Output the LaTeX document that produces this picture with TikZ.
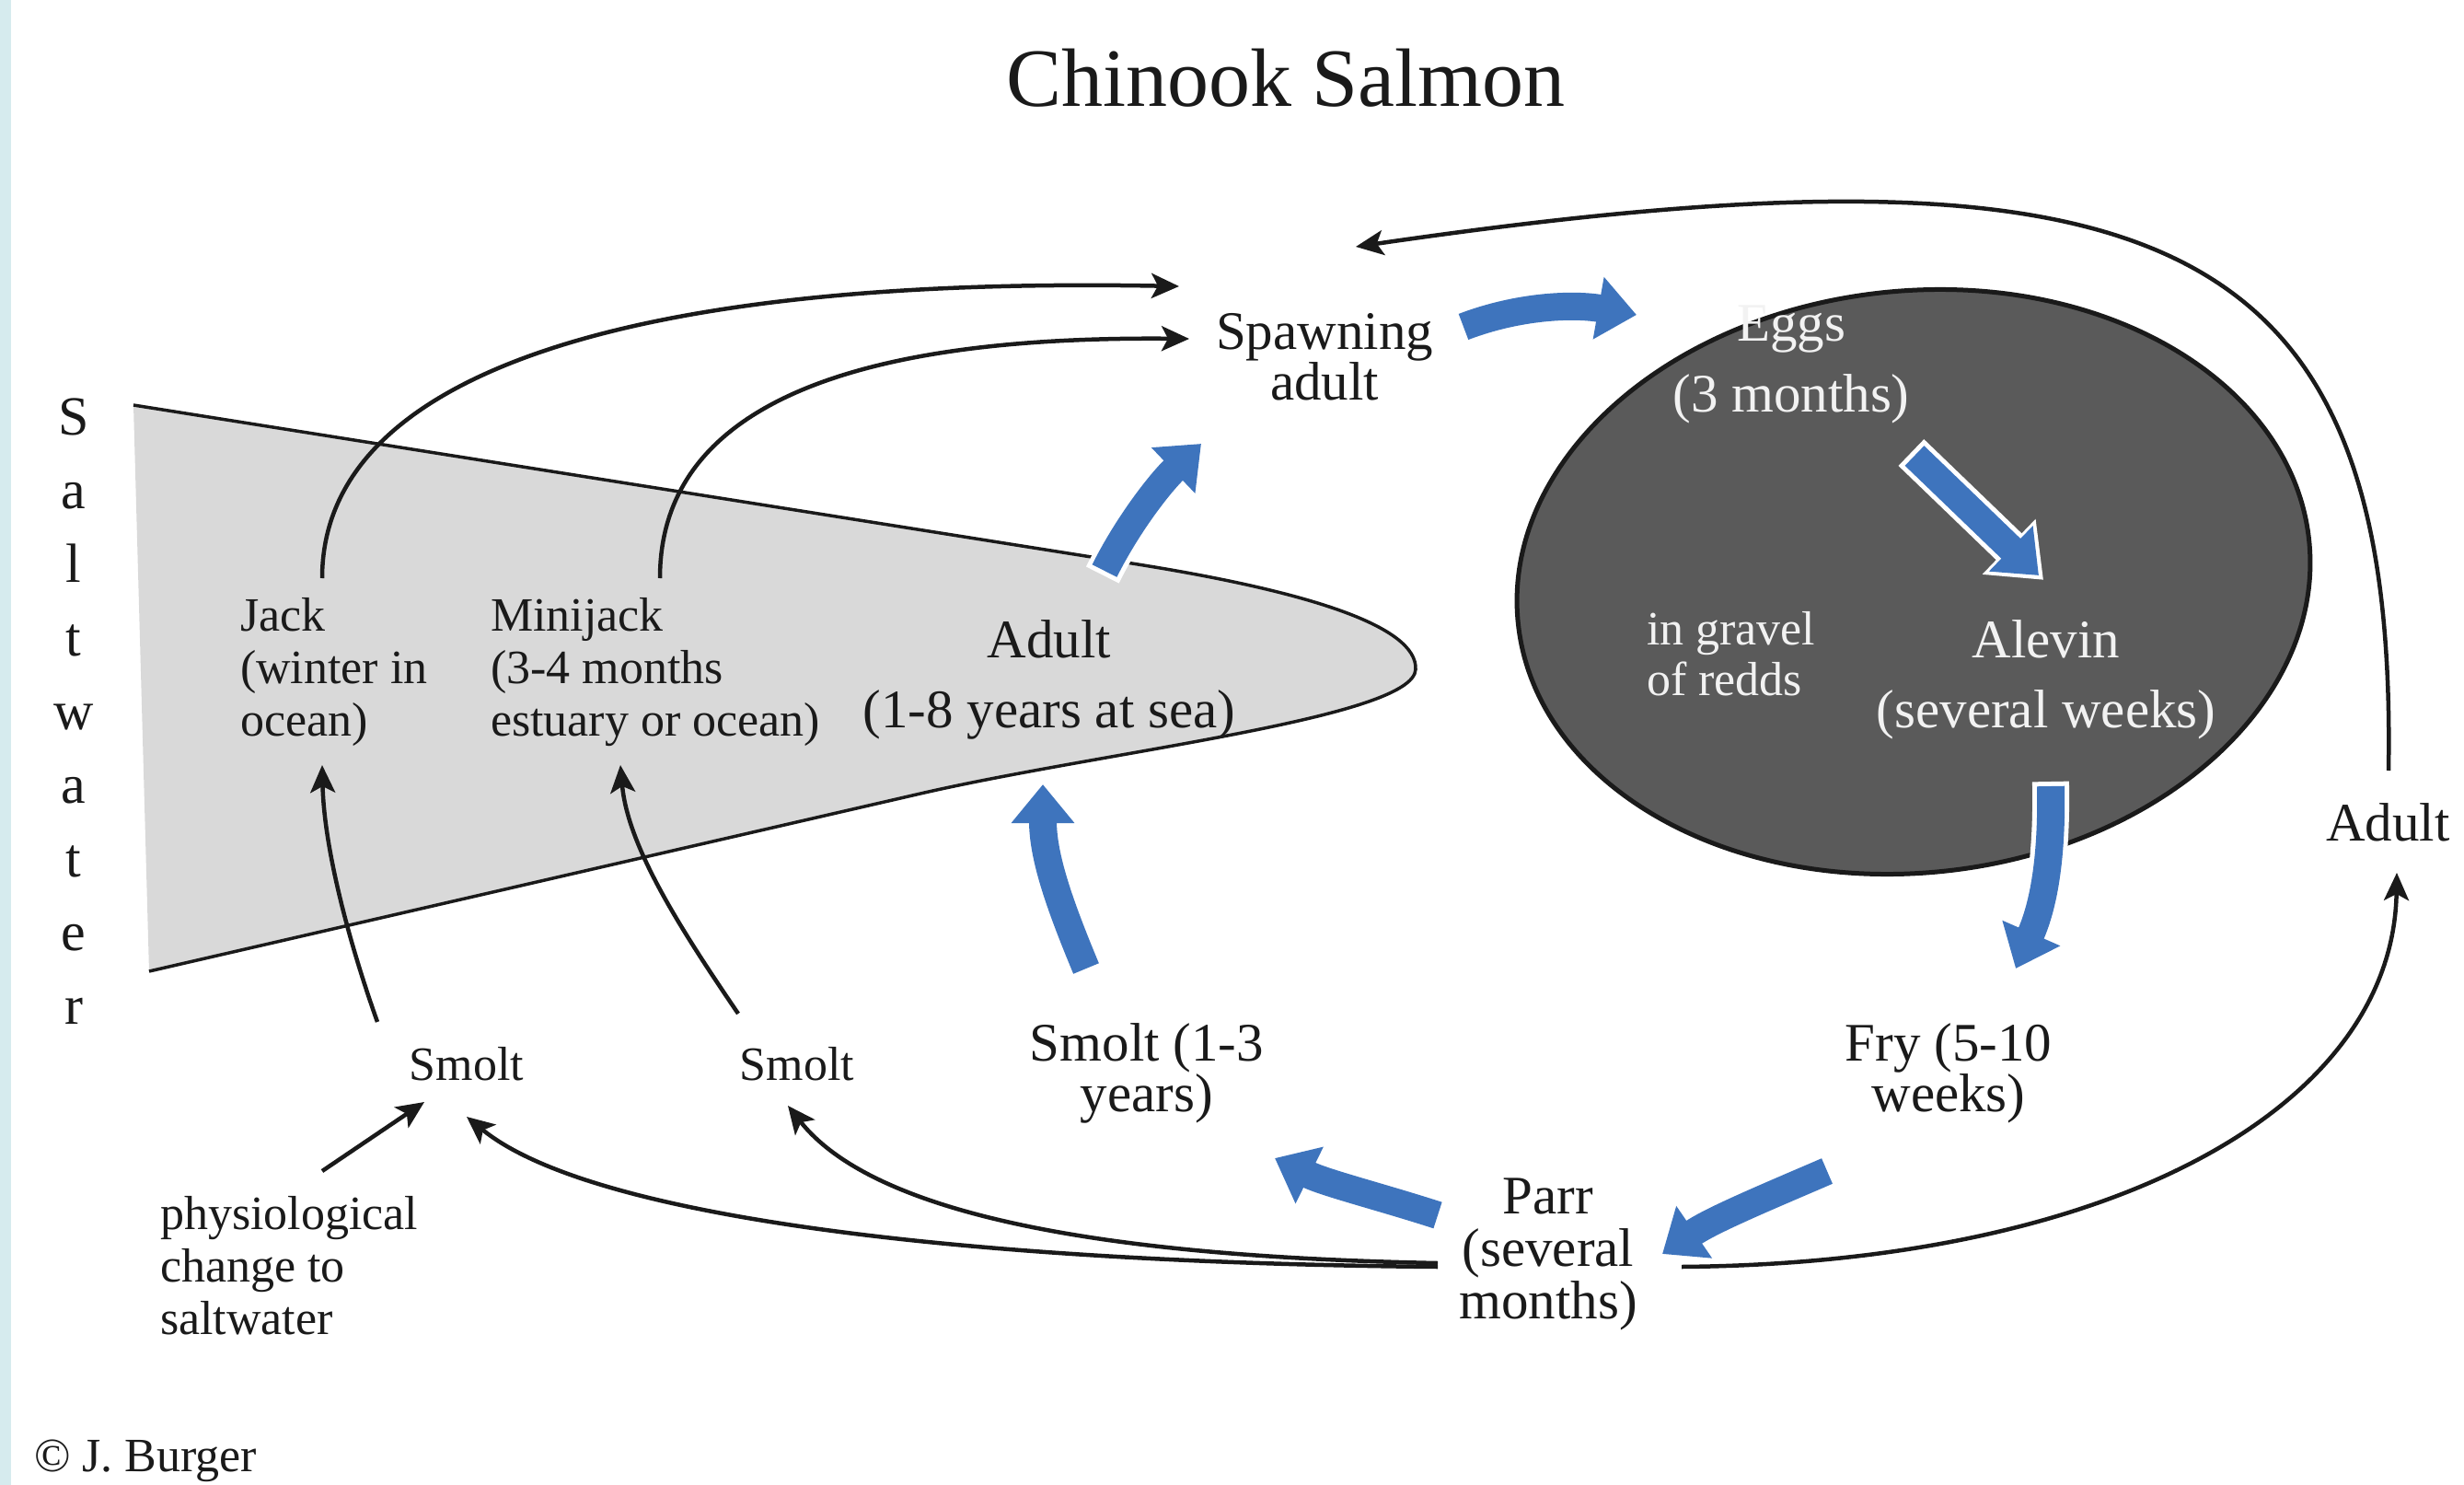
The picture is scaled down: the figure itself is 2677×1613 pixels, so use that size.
\documentclass[tikz,border=0pt]{standalone}
\usepackage{fontspec}
\setmainfont{Liberation Serif}
\usetikzlibrary{arrows.meta,calc}
\definecolor{stripblue}{HTML}{D6EBEE}
\definecolor{seagray}{HTML}{D9D9D9}
\definecolor{reddgray}{HTML}{5A5A5A}
\definecolor{stageblue}{HTML}{3E74BD}
\definecolor{ink}{HTML}{1A1A1A}
\definecolor{paleink}{HTML}{F2F2F2}
\begin{document}
\begin{tikzpicture}[x=1pt,y=-1pt,
  every node/.style={inner sep=0pt, outer sep=0pt, text=ink},
  stage/.style={font=\fontsize{59}{56}\selectfont, align=center, anchor=base},
  note/.style={font=\fontsize{52}{57}\selectfont, align=left, anchor=base west},
  redd/.style={text=paleink},
  conn/.style={draw=ink, line width=4.5pt, -{Stealth[length=30pt,width=27pt,inset=7pt]}},
  flow/.style={draw=stageblue, line width=30pt, -{Triangle[width=66pt,length=42pt]}},
  flowrim/.style={draw=white, line width=40pt, shorten >=-7pt, shorten <=-5pt, -{Triangle[width=80pt,length=52pt]}},
]
\useasboundingbox (0,0) rectangle (2677,1613);
\fill[white] (0,0) rectangle (2677,1613);
\fill[stripblue] (0,0) rectangle (12,1613);

% sea wedge
\fill[seagray] (145,440) -- (1230,612) .. controls (1420,642) and (1540,680) .. (1538,727)
  .. controls (1536,780) and (1200,816) .. (1000,862) -- (162,1055) -- cycle;
\draw[ink, line width=3.5pt] (145,440) -- (1230,612) .. controls (1420,642) and (1540,680) .. (1538,727)
  .. controls (1536,780) and (1200,816) .. (1000,862) -- (162,1055);

% gravel / redds
\draw[ink, fill=reddgray, line width=5pt, rotate around={6:(2079,632)}] (2079,632) ellipse [x radius=432, y radius=316];

% text nodes (multi-line nodes are placed at the baseline of their last line)
\node[stage, font=\fontsize{90}{100}\selectfont] (title) at (1397,116) {Chinook Salmon};
\foreach \ch [count=\i from 0] in {S,a,l,t,w,a,t,e,r}
  {\node[stage, font=\fontsize{60}{60}\selectfont] (salt\i) at (80,{472+80*\i}) {\ch};}
\node[stage, font=\fontsize{59}{52}\selectfont] (spawn) at (1439,434) {Spawning\\adult};
\node[stage, redd, font=\fontsize{59}{77}\selectfont] (eggs) at (1946,447) {Eggs\\(3 months)};
\node[note, redd, font=\fontsize{52}{55}\selectfont] (gravel) at (1789,755) {in gravel\\of redds};
\node[stage, redd, font=\fontsize{59}{76}\selectfont] (alevin) at (2223,790) {Alevin\\(several weeks)};
\node[stage, font=\fontsize{59}{76}\selectfont] (adultsea) at (1140,790) {Adult\\(1-8 years at sea)};
\node[note] (jack) at (261,799) {Jack\\(winter in\\ocean)};
\node[note] (minijack) at (533,799) {Minijack\\(3-4 months\\estuary or ocean)};
\node[stage, font=\fontsize{52}{57}\selectfont] (smoltA) at (507,1173) {Smolt};
\node[stage, font=\fontsize{52}{57}\selectfont] (smoltB) at (866,1173) {Smolt};
\node[stage, font=\fontsize{59}{55}\selectfont] (smoltC) at (1246,1207) {Smolt (1-3\\years)};
\node[stage, font=\fontsize{59}{55}\selectfont] (fry) at (2117,1207) {Fry (5-10\\weeks)};
\node[stage, font=\fontsize{59}{57}\selectfont] (parr) at (1682,1432) {Parr\\(several\\months)};
\node[stage, anchor=base west] (adultR) at (2527,913) {Adult};
\node[note] (physio) at (174,1449) {physiological\\change to\\saltwater};
\node[note] (credit) at (37,1598) {© J. Burger};

% black connectors
\draw[conn] ($(jack.base west)+(89,-171)$) .. controls (350,400) and (700,300) .. ($(spawn.base)+(-158,-123)$);
\draw[conn] ($(minijack.base west)+(184,-171)$) .. controls (717,430) and (950,365) .. ($(spawn.base)+(-147,-66)$);
\draw[conn] ($(smoltA.base)+(-97,-63)$) .. controls (378,1020) and (352,920) .. ($(jack.base west)+(89,32)$);
\draw[conn] ($(smoltB.base)+(-64,-72)$) .. controls (740,1010) and (682,920) .. ($(minijack.base west)+(141,32)$);
\draw[conn] ($(physio.base west)+(176,-177)$) -- ($(smoltA.base)+(-46,24)$);
\draw[conn] ($(parr.base)+(-120,-56)$) .. controls (1100,1372) and (650,1330) .. ($(smoltA.base)+(0,40)$);
\draw[conn] ($(parr.base)+(-120,-60)$) .. controls (1200,1365) and (950,1320) .. ($(smoltB.base)+(-10,28)$);
\draw[conn] ($(parr.base)+(145,-56)$) .. controls (2300,1372) and (2600,1200) .. ($(adultR.base west)+(77,35)$);
\draw[conn] ($(adultR.base west)+(68,-76)$) .. controls (2605,250) and (2350,140) .. ($(spawn.base)+(34,-166)$);

% blue stage arrows
\foreach \sty in {flowrim,flow}{
  \draw[\sty] ($(spawn.base)+(151,-79)$) .. controls (1650,332) and (1710,330) .. ($(eggs.base)+(-168,-105)$);
  \draw[\sty] ($(eggs.base)+(134,48)$) -- ($(alevin.base)+(-8,-165)$);
  \draw[\sty] ($(alevin.base)+(5,64)$) .. controls (2230,950) and (2215,995) .. ($(fry.base)+(73,-155)$);
  \draw[\sty] ($(fry.base)+(-132,65)$) .. controls (1920,1300) and (1860,1325) .. ($(parr.base)+(124,-70)$);
  \draw[\sty] ($(parr.base)+(-120,-112)$) .. controls (1500,1300) and (1440,1285) .. ($(smoltC.base)+(139,51)$);
  \draw[\sty] ($(smoltC.base)+(-66,-155)$) .. controls (1150,980) and (1133,930) .. ($(adultsea.base)+(-7,62)$);
  \draw[\sty] ($(adultsea.base)+(60,-170)$) .. controls (1225,570) and (1260,525) .. ($(spawn.base)+(-134,48)$);
}
\end{tikzpicture}
\end{document}
